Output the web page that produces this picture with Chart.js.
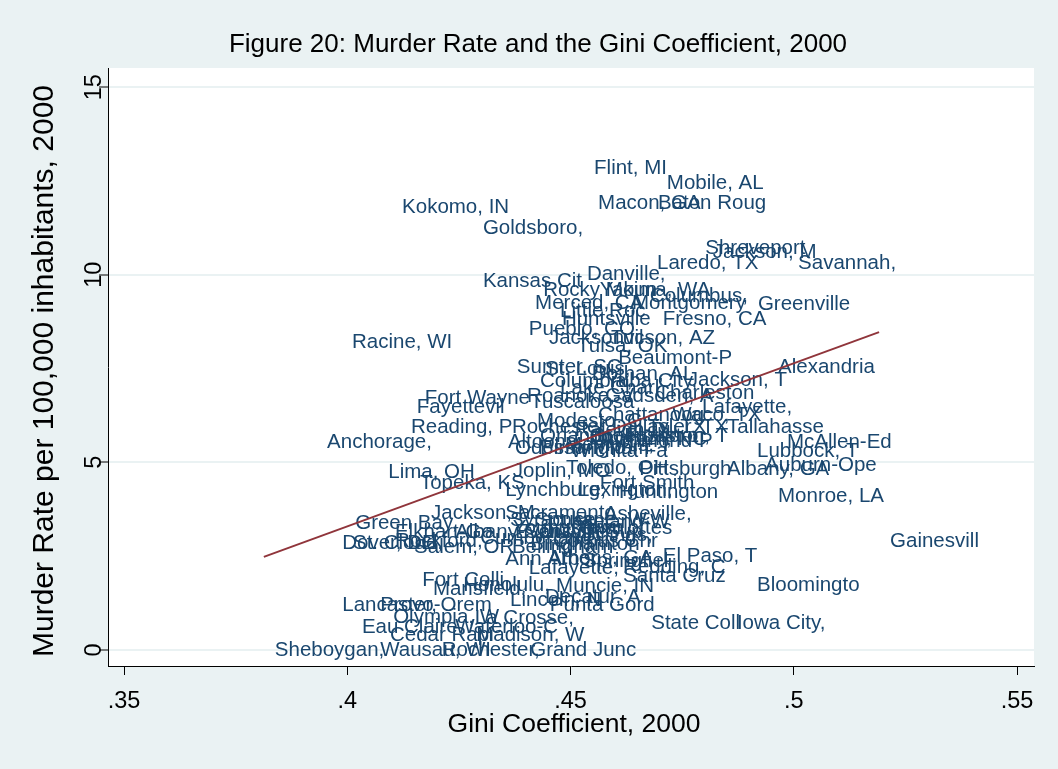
<!DOCTYPE html>
<html lang="en">
<head>
    <meta charset="UTF-8">
    <title>Figure 20: Murder Rate and the Gini Coefficient, 2000</title>
    <script src="https://cdn.jsdelivr.net/npm/chart.js"></script>
    <style>
        body { margin: 0; background: #eaf2f3; }
    </style>
</head>
<body>
    <canvas id="giniChart" width="1058" height="769"></canvas>

    <script>
        // metro areas (labels cut to 10 chars, as Stata does)
        const cities = [
            'Flint, MI', 'Mobile, AL', 'Macon, GA', 'Baton Roug', 'Kokomo, IN', 'Goldsboro,',
            'Shreveport', 'Jackson, M', 'Laredo, TX', 'Savannah, ', 'Danville, ', 'Kansas Cit',
            'Rocky Moun', 'Yakima, WA', 'Columbus, ', 'Merced, CA', 'Montgomery', 'Greenville',
            'Little Roc', 'Huntsville', 'Fresno, CA', 'Pueblo, CO', 'Jacksonvil', 'Tucson, AZ',
            'Tulsa, OK', 'Racine, WI', 'Beaumont-P', 'Alexandria', 'Sumter, SC', 'St. Louis,',
            'Dothan, AL', 'Columbia, ', 'Yuba City,', 'Jackson, T', 'Roanoke, V', 'Gadsden, A',
            'Charleston', 'Fort Wayne', 'Fayettevil', 'Tuscaloosa', 'Lafayette,', 'Chattanoog',
            'Waco, TX', 'Tallahasse', 'McAllen-Ed', 'Lubbock, T', 'Auburn-Ope', 'Albany, GA',
            'Pittsburgh', 'Toledo, OH', 'Joplin, MO', 'Monroe, LA', 'Reading, P', 'Rochester,',
            'Modesto, C', 'Anchorage,', 'Altoona, P', 'Lima, OH', 'Topeka, KS', 'Lynchburg,',
            'Huntington', 'Lexington,', 'Fort Smith', 'Orlando, F', 'Greensboro', 'Memphis, T',
            'Raleigh-Du', 'Richmond-P', 'Wichita Fa', 'Dallas, TX', 'Houston, T', 'Durham, NC',
            'Tyler, TX', 'Jackson, M', 'Green Bay,', 'Elkhart-Go', 'Dover, DE', 'St. Cloud,',
            'Rockford, ', 'Salem, OR', 'Bellingham', 'Ann Arbor,', 'Athens, GA', 'Lafayette,',
            'Springfiel', 'El Paso, T', 'Redding, C', 'Santa Cruz', 'Bloomingto', 'Gainesvill',
            'Fort Colli', 'Honolulu, ', 'Muncie, IN', 'Mansfield,', 'Lincoln, N', 'Decatur, A',
            'Punta Gord', 'Lancaster,', 'Provo-Orem', 'Olympia, W', 'La Crosse,', 'Eau Claire',
            'Waterloo-C', 'Cedar Rapi', 'Madison, W', 'State Coll', 'Iowa City,', 'Sheboygan,',
            'Wausau, WI', 'Rochester,', 'Grand Junc', 'Sacramento', 'Asheville,', 'Syracuse, ',
            'Spokane, W', 'Lakeland-W', 'Youngstown', 'Charlottes', 'Evansville', 'Albany-Sch',
            'Corpus Chr', 'Cumberland', 'Duluth-Sup', 'Billings, ', 'Binghamton', 'Lake Charl',
            'Odessa-Mid', 'Birmingham'
        ];
        const gini = [
            0.4528, 0.4691, 0.4537, 0.4671, 0.4098, 0.4279,
            0.4777, 0.4794, 0.4669, 0.4985, 0.4512, 0.4279,
            0.4414, 0.4541, 0.4653, 0.4396, 0.4613, 0.4895,
            0.4452, 0.4456, 0.4682, 0.4382, 0.4427, 0.4566,
            0.4490, 0.3986, 0.4582, 0.4940, 0.4355, 0.4418,
            0.4523, 0.4407, 0.4553, 0.4738, 0.4378, 0.4553,
            0.4665, 0.4149, 0.4131, 0.4385, 0.4770, 0.4537,
            0.4703, 0.4826, 0.4960, 0.4893, 0.4911, 0.4826,
            0.4629, 0.4465, 0.4346, 0.4940, 0.4118, 0.4344,
            0.4400, 0.3930, 0.4335, 0.4067, 0.4138, 0.4329,
            0.4584, 0.4492, 0.4541, 0.4407, 0.4519, 0.4463,
            0.4485, 0.4541, 0.4476, 0.4568, 0.4604, 0.4526,
            0.4647, 0.4163, 0.3993, 0.4082, 0.3964, 0.3988,
            0.4082, 0.4125, 0.4344, 0.4329, 0.4425, 0.4382,
            0.4503, 0.4682, 0.4593, 0.4593, 0.4893, 0.5191,
            0.4143, 0.4235, 0.4443, 0.4167, 0.4340, 0.4418,
            0.4429, 0.3964, 0.4049, 0.4078, 0.4261, 0.4008,
            0.4217, 0.4071, 0.4264, 0.4656, 0.4848, 0.3813,
            0.4049, 0.4187, 0.4385, 0.4329, 0.4550, 0.4340,
            0.4396, 0.4452, 0.4346, 0.4494, 0.4351, 0.4217,
            0.4436, 0.4273, 0.4407, 0.4501, 0.4385, 0.4452,
            0.4351, 0.4407
        ];
        const murder = [
            12.84, 12.44, 11.91, 11.91, 11.80, 11.24,
            10.71, 10.60, 10.31, 10.31, 10.02, 9.83,
            9.57, 9.57, 9.43, 9.25, 9.25, 9.22,
            9.03, 8.82, 8.82, 8.55, 8.31, 8.31,
            8.10, 8.21, 7.78, 7.54, 7.54, 7.49,
            7.35, 7.17, 7.17, 7.19, 6.77, 6.77,
            6.85, 6.71, 6.47, 6.61, 6.47, 6.24,
            6.26, 5.92, 5.52, 5.28, 4.93, 4.80,
            4.82, 4.85, 4.77, 4.10, 5.92, 5.92,
            6.10, 5.52, 5.52, 4.74, 4.45, 4.26,
            4.21, 4.26, 4.45, 5.70, 5.70, 5.46,
            5.86, 5.57, 5.28, 5.92, 5.70, 5.60,
            5.92, 3.65, 3.38, 3.12, 2.85, 2.85,
            2.90, 2.72, 2.72, 2.40, 2.45, 2.16,
            2.37, 2.50, 2.21, 1.97, 1.71, 2.90,
            1.84, 1.73, 1.68, 1.60, 1.31, 1.39,
            1.20, 1.20, 1.20, 0.88, 0.85, 0.61,
            0.61, 0.40, 0.40, 0.72, 0.72, 0.00,
            0.00, 0.00, 0.00, 3.65, 3.60, 3.44,
            3.46, 3.41, 3.25, 3.25, 3.12, 3.12,
            2.88, 2.98, 3.12, 3.06, 2.80, 6.98,
            5.38, 5.36
        ];

        // linear fit (lfit) end points
        const fitX = [0.3813, 0.5191];
        const fitY = [2.48, 8.47];

        const xTicks = [0.35, 0.40, 0.45, 0.50, 0.55];
        const xTickLabels = ['.35', '.4', '.45', '.5', '.55'];
        const yTicks = [0, 5, 10, 15];

        const FONT = '"Liberation Sans", Arial, sans-serif';
        const NAVY = '#1a476f';
        const MAROON = '#90353b';
        const BG = '#eaf2f3';

        const decorPlugin = {
            id: 'decor',
            beforeDraw(chart) {
                const { ctx, chartArea: a } = chart;
                ctx.save();
                ctx.fillStyle = BG;
                ctx.fillRect(0, 0, chart.width, chart.height);
                ctx.fillStyle = '#ffffff';
                ctx.fillRect(a.left, a.top, a.right - a.left, a.bottom - a.top);
                ctx.restore();
            },
            beforeDatasetsDraw(chart) {
                // marker labels, placed right of the (invisible) markers
                const ctx = chart.ctx;
                const meta = chart.getDatasetMeta(0);
                ctx.save();
                ctx.font = '20.5px ' + FONT;
                ctx.fillStyle = NAVY;
                ctx.textAlign = 'left';
                ctx.textBaseline = 'middle';
                meta.data.forEach((pt, i) => {
                    ctx.fillText(cities[i], pt.x + 11, pt.y);
                });
                ctx.restore();
            },
            afterDraw(chart) {
                const { ctx, chartArea: a } = chart;
                const yScale = chart.scales.y;
                ctx.save();
                ctx.fillStyle = '#000';
                ctx.textAlign = 'center';
                ctx.textBaseline = 'middle';

                // title
                ctx.font = '26px ' + FONT;
                ctx.fillText('Figure 20: Murder Rate and the Gini Coefficient, 2000', 538, 45);

                // x title
                ctx.font = '26.5px ' + FONT;
                ctx.fillText('Gini Coefficient, 2000', 574, 725);

                // y title
                ctx.save();
                ctx.font = '30px ' + FONT;
                ctx.translate(45, 371);
                ctx.rotate(-Math.PI / 2);
                ctx.fillText('Murder Rate per 100,000 inhabitants, 2000', 0, 0);
                ctx.restore();

                // y tick labels, rotated like Stata
                ctx.font = '23.5px ' + FONT;
                yTicks.forEach(v => {
                    ctx.save();
                    ctx.translate(95, yScale.getPixelForValue(v));
                    ctx.rotate(-Math.PI / 2);
                    ctx.fillText(String(v), 0, 0);
                    ctx.restore();
                });
                ctx.restore();
            }
        };

        const ctx = document.getElementById('giniChart').getContext('2d');
        const chart = new Chart(ctx, {
            type: 'scatter',
            data: {
                datasets: [
                    {
                        label: 'Murder rate',
                        data: cities.map((c, i) => ({ x: gini[i], y: murder[i] })),
                        pointRadius: 0,
                        pointHoverRadius: 0
                    },
                    {
                        type: 'line',
                        label: 'Fitted values',
                        data: fitX.map((x, i) => ({ x: x, y: fitY[i] })),
                        borderColor: MAROON,
                        borderWidth: 2,
                        pointRadius: 0,
                        fill: false
                    }
                ]
            },
            options: {
                responsive: false,
                animation: false,
                devicePixelRatio: 1,
                layout: { padding: { top: 68, right: 24, left: 0, bottom: 0 } },
                plugins: {
                    legend: { display: false },
                    tooltip: { enabled: false }
                },
                scales: {
                    x: {
                        type: 'linear',
                        min: 0.3464,
                        max: 0.5538,
                        afterBuildTicks: (s) => { s.ticks = xTicks.map(v => ({ value: v })); },
                        afterFit: (s) => { s.height = 103; },
                        ticks: {
                            color: '#000',
                            font: { family: FONT, size: 23.5 },
                            padding: 12,
                            maxRotation: 0,
                            callback: (v) => xTickLabels[xTicks.indexOf(v)] ?? ''
                        },
                        grid: {
                            drawOnChartArea: false,
                            tickLength: 9,
                            tickColor: '#000'
                        },
                        border: { color: '#000', width: 1 }
                    },
                    y: {
                        type: 'linear',
                        min: -0.43,
                        max: 15.51,
                        afterBuildTicks: (s) => { s.ticks = yTicks.map(v => ({ value: v })); },
                        afterFit: (s) => { s.width = 108; },
                        ticks: { display: false },
                        grid: {
                            color: BG,
                            lineWidth: 2,
                            tickLength: 9,
                            tickColor: '#000',
                            tickWidth: 1
                        },
                        border: { color: '#000', width: 1 }
                    }
                }
            },
            plugins: [decorPlugin]
        });
    </script>
</body>
</html>
